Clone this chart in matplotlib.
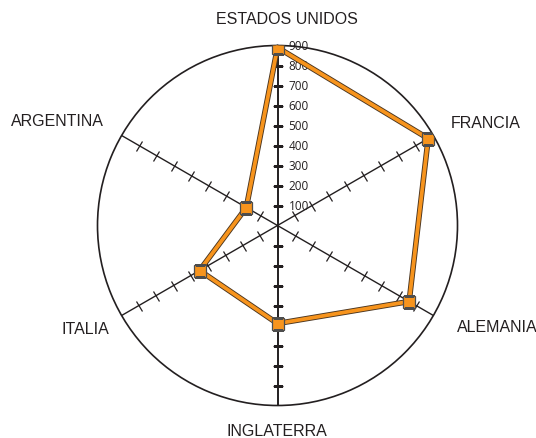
import numpy as np
import matplotlib
matplotlib.use("Agg")
import matplotlib.pyplot as plt
from matplotlib.markers import MarkerStyle
from matplotlib.transforms import Affine2D

# paises y valores
paises = ["ESTADOS UNIDOS", "FRANCIA", "ALEMANIA", "INGLATERRA", "ITALIA", "ARGENTINA"]
valores = [890, 870, 760, 490, 450, 180]
ticks = [100, 200, 300, 400, 500, 600, 700, 800, 900]
rmax = 900

W, H = 536, 439
fig = plt.figure(figsize=(W / 100, H / 100), dpi=100)

# centro en (277.5, 226.5) px, radio 180 px
cx, cy, rad = 277.5, 226.5, 180
ax = fig.add_axes([(cx - rad) / W, (H - cy - rad) / H, 2 * rad / W, 2 * rad / H],
                  projection="polar")
ax.set_theta_zero_location("N")
ax.set_theta_direction(-1)
ax.set_ylim(0, rmax)
ax.grid(False)
ax.set_xticks([])
ax.set_yticks([])
ax.spines["polar"].set_color("#231f20")
ax.spines["polar"].set_linewidth(1.2)

n = len(paises)
ang = np.arange(n) * 2 * np.pi / n

# ejes radiales con marcas perpendiculares
for i, a in enumerate(ang):
    lw = 1.4 if i in (0, 3) else 1.0
    ax.plot([a, a], [0, rmax], color="#231f20", lw=lw, zorder=2)
    # "_" es horizontal; girar para que quede perpendicular al eje
    m = MarkerStyle("_", transform=Affine2D().rotate_deg(-np.degrees(a)))
    ax.plot([a] * (len(ticks) - 1), ticks[:-1], ls="none",
            marker=m, markersize=7.5, mec="#231f20", mew=0.9, zorder=2)

# etiquetas de escala en el eje superior
for t in ticks:
    ax.annotate(str(t), xy=(0, t), xytext=(8, 0), textcoords="offset points",
                ha="left", va="center", fontsize=8.5, color="#231f20",
                family=["Open Sans", "DejaVu Sans"], zorder=3)

# serie
th = np.append(ang, ang[0])
vv = np.append(valores, valores[0])
ax.plot(th, vv, color="#4a3520", lw=4.0, solid_joinstyle="miter", zorder=4)
ax.plot(th, vv, color="#f7941d", lw=2.7, solid_joinstyle="miter", zorder=5)
ax.plot(ang, valores, ls="none", marker="s", markersize=8,
        mfc="#f7941d", mec="#4d4d4d", mew=0.9, zorder=6)

# nombres de paises
pos = [(287, 20), (486, 123), (497, 327), (277, 432), (85, 330), (57, 122)]
for nombre, (x, y) in zip(paises, pos):
    fig.text(x / W, 1 - y / H, nombre, ha="center", va="center",
             fontsize=11.5, color="#231f20", family=["Liberation Sans", "DejaVu Sans"])

plt.savefig("out.png", dpi=100)
